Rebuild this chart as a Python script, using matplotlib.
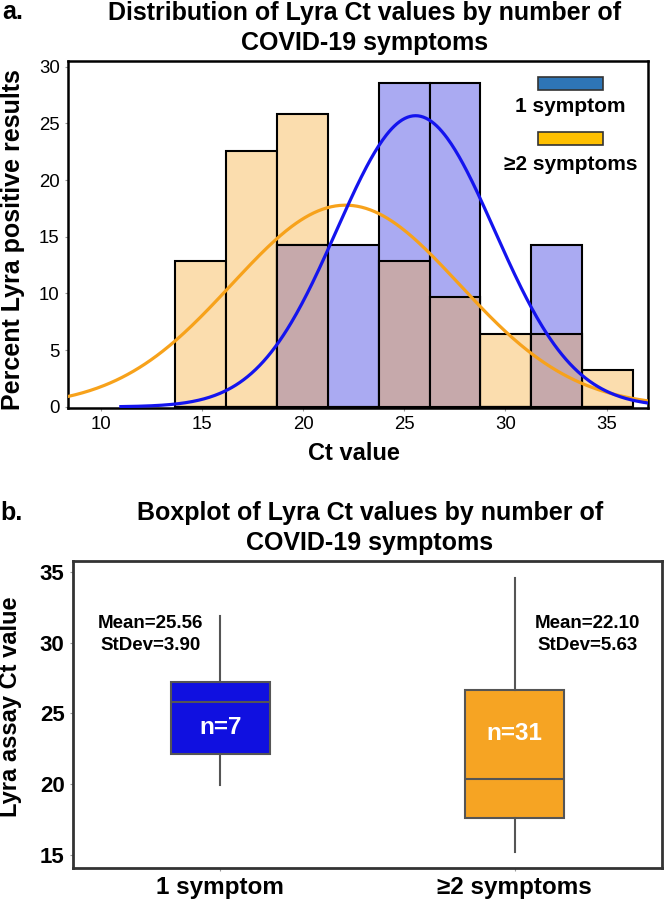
import numpy as np
import matplotlib
matplotlib.use("Agg")
import matplotlib.pyplot as plt
from matplotlib.patches import Rectangle

plt.rcParams['font.family'] = ['Liberation Sans', 'DejaVu Sans']

# ---- data ----
bin_start = 13.70
bin_width = 2.51
pct_one = [0, 0, 14.29, 14.29, 28.57, 28.57, 0, 14.29, 0]          # 1 symptom, n=7
pct_multi = [12.90, 22.58, 25.81, 0, 12.90, 9.68, 6.45, 6.45, 3.23]  # >=2 symptoms, n=31
mean_one, sd_one = 25.56, 3.90
mean_multi, sd_multi = 22.10, 5.63

groups = ["1 symptom", "≥2 symptoms"]
n_obs = [7, 31]
whis_lo = [19.93, 15.20]
q1 = [22.12, 17.57]
med = [25.78, 20.33]
q3 = [27.19, 26.65]
whis_hi = [31.89, 34.55]
means = [25.56, 22.10]
sds = [3.90, 5.63]

W, H = 666, 905
fig = plt.figure(figsize=(W / 100, H / 100), dpi=100)

def fx(px):
    return px / W

def fy(py):
    return 1 - py / H

# ---- panel a: histogram ----
ax = fig.add_axes([fx(68), fy(408), fx(648 - 68), (408 - 61) / H])
edges = bin_start + bin_width * np.arange(len(pct_one))
overlap = np.minimum(pct_one, pct_multi)
bar_kw = dict(width=bin_width, align="edge", edgecolor="black", linewidth=1.5)
ax.bar(edges, pct_multi, color="#FBDDAE", **bar_kw)
ax.bar(edges, pct_one, color="#AAAAF2", **bar_kw)
ax.bar(edges, overlap, color="#C6A9AB", **bar_kw)

xlim = (8.39, 37.04)
xo = np.linspace(xlim[0], xlim[1], 400)
xb = np.linspace(11.0, xlim[1], 400)
def norm_pct(x, m, s):
    return 100 * bin_width * np.exp(-0.5 * ((x - m) / s) ** 2) / (s * np.sqrt(2 * np.pi))
ax.plot(xo, norm_pct(xo, mean_multi, sd_multi), color="#F7A21B", lw=2.3, zorder=4)
ax.plot(xb, norm_pct(xb, mean_one, sd_one), color="#1414EE", lw=2.3, zorder=5)

ax.set_xlim(*xlim)
ax.set_ylim(-0.1, 30.5)
ax.set_xticks([10, 15, 20, 25, 30, 35])
ax.set_yticks([0, 5, 10, 15, 20, 25, 30])
ax.tick_params(length=2, width=0.8, color="#999999", labelsize=13.4, pad=4)
for sp in ax.spines.values():
    sp.set_linewidth(1.8)
    sp.set_color("black")

# legend drawn by hand: patch above label
leg_items = [("1 symptom", "#2E75B6", 76.7, 106.5), ("≥2 symptoms", "#FFC000", 131.7, 165)]
for lab, col, ptop, ty in leg_items:
    fig.patches.append(Rectangle((fx(538), fy(ptop + 13)), fx(65), 13 / H,
                                 facecolor=col, edgecolor="#333333", lw=1.2,
                                 transform=fig.transFigure, zorder=10))
    fig.text(fx(570.5), fy(ty), lab, ha="center", va="center",
             fontsize=15, fontweight="bold", zorder=10)

fig.text(fx(365), fy(13), "Distribution of Lyra Ct values by number of",
         ha="center", va="center", fontsize=18, fontweight="bold")
fig.text(fx(365), fy(43), "COVID-19 symptoms",
         ha="center", va="center", fontsize=18, fontweight="bold")
fig.text(fx(2), fy(12), "a.", ha="left", va="center", fontsize=18, fontweight="bold")
fig.text(fx(13), fy(240), "Percent Lyra positive results", rotation=90,
         ha="center", va="center", fontsize=18, fontweight="bold")
fig.text(fx(354), fy(453), "Ct value", ha="center", va="center",
         fontsize=17, fontweight="bold")

# ---- panel b: boxplot ----
bx = fig.add_axes([fx(73), fy(868), fx(662 - 73), (868 - 561) / H])
stats = []
for i in range(len(groups)):
    stats.append(dict(label=groups[i], whislo=whis_lo[i], q1=q1[i], med=med[i],
                      q3=q3[i], whishi=whis_hi[i], fliers=[]))
gray = "#555555"
bp = bx.bxp(stats, positions=[1, 2], widths=0.335, patch_artist=True,
            showcaps=False, showfliers=False,
            boxprops=dict(edgecolor=gray, linewidth=1.5),
            medianprops=dict(color=gray, linewidth=1.5),
            whiskerprops=dict(color=gray, linewidth=1.5))
for patch, col in zip(bp["boxes"], ["#1010E0", "#F6A423"]):
    patch.set_facecolor(col)

text_x = [0.762, 2.248]
for i in range(len(groups)):
    bx.text(text_x[i], 31.39, f"Mean={means[i]:.2f}", ha="center", va="center",
            fontsize=13.5, fontweight="bold")
    bx.text(text_x[i], 29.80, f"StDev={sds[i]:.2f}", ha="center", va="center",
            fontsize=13.5, fontweight="bold")
    bx.text(i + 1, [23.96, 23.6][i], f"n={n_obs[i]}", ha="center", va="center",
            fontsize=17.5, fontweight="bold", color="white")

bx.set_xlim(0.5, 2.5)
bx.set_ylim(14.05, 35.78)
bx.set_yticks([15, 20, 25, 30, 35])
bx.set_xticks([1, 2])
bx.set_xticklabels(groups)
bx.tick_params(length=2, width=0.8, color="#999999", pad=4)
for lab in bx.get_xticklabels():
    lab.set_fontsize(17.5)
    lab.set_fontweight("bold")
for lab in bx.get_yticklabels():
    lab.set_fontsize(16)
    lab.set_fontweight("bold")
for sp in bx.spines.values():
    sp.set_linewidth(2.0)
    sp.set_color("#333333")

fig.text(fx(370), fy(513), "Boxplot of Lyra Ct values by number of",
         ha="center", va="center", fontsize=18, fontweight="bold")
fig.text(fx(370), fy(543), "COVID-19 symptoms",
         ha="center", va="center", fontsize=18, fontweight="bold")
fig.text(fx(0), fy(513), "b.", ha="left", va="center", fontsize=18, fontweight="bold")
fig.text(fx(11), fy(707), "Lyra assay Ct value", rotation=90,
         ha="center", va="center", fontsize=17, fontweight="bold")

fig.savefig("out.png", dpi=100)
